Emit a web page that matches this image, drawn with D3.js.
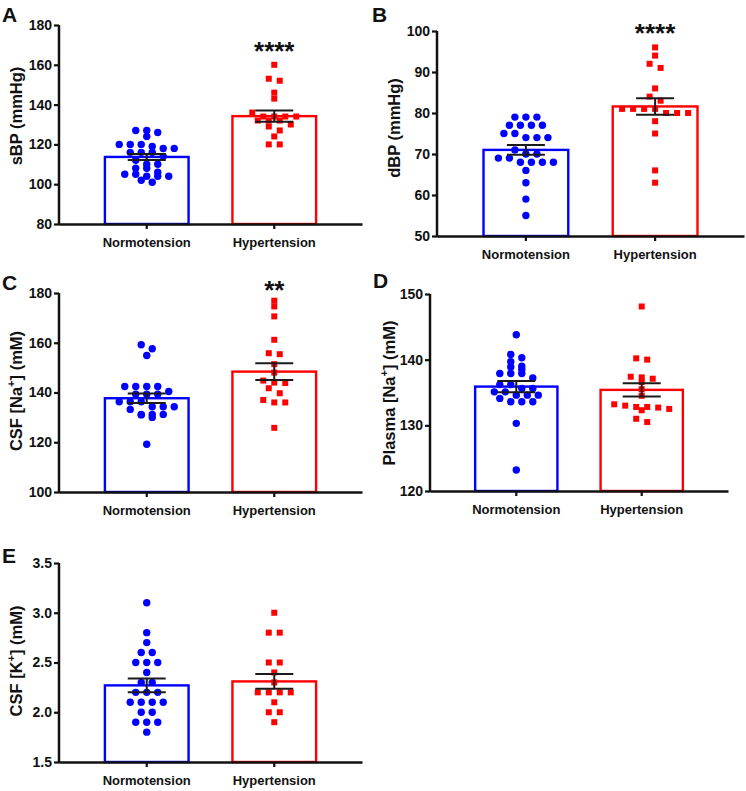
<!DOCTYPE html>
<html><head><meta charset="utf-8">
<script src="https://cdn.jsdelivr.net/npm/d3@7"></script>
<style>
body{margin:0;background:#fff}
svg{display:block}
text{font-family:"Liberation Sans",Arial,Helvetica,sans-serif;font-weight:bold;fill:#111}
</style>
</head><body>
<svg id="chart" width="746" height="791"></svg>
<script>
// ---------- DATA ----------
const categories = ["Normotension", "Hypertension"];

// A: sBP (mmHg)
const sbpNormo = [127,127,126,124,120,120,120,119,118,118,116,116,116,114,112,110,110,108,108,106,105,105,104,104,104,102,101];
const sbpHyper = [160,153,152,146,143,136,134,134,134,134,132,132,132,130,129,127,124,120,120];
const sbpMean = [113.7, 134.2];
const sbpSem = [1.5, 2.8];
const sbpTicks = [80,100,120,140,160,180];

// B: dBP (mmHg)
const dbpNormo = [79,79,79,77,77,77,77,75,75,74,74,74,71,70,70,69,69,68,68,68,68,66,63,59,55];
const dbpHyper = [96,94,92,91,86,84,83,81,81,81,81,80,80,80,78,75,66,63];
const dbpMean = [71.0, 81.6];
const dbpSem = [1.2, 2.0];
const dbpTicks = [50,60,70,80,90,100];

// C: CSF [Na+] (mM)
const csfNaNormo = [159.2,157.6,154.9,142.4,142.4,142.4,142.4,140.4,139.3,139.3,139.3,136.3,136.3,136.3,134.3,134.3,134.3,133.2,131.2,131.2,131.2,131.0,130.0,119.2];
const csfNaHyper = [176.9,174.6,170.6,161.2,155.8,155.4,151.4,148.0,144.8,144.0,143.8,141.7,139.7,137.0,136.0,136.0,125.8];
const csfNaMean = [137.7, 148.4];
const csfNaSem = [1.9, 3.4];
const csfNaTicks = [100,120,140,160,180];

// D: Plasma [Na+] (mM)
const plNaNormo = [143.8,140.8,140.3,139.7,139.0,138.9,138.5,137.9,137.9,137.9,137.2,136.2,136.2,135.6,135.6,135.1,135.1,134.6,134.6,134.6,134.1,133.6,133.6,133.6,130.3,123.2];
const plNaHyper = [148.1,140.2,140.0,137.4,137.3,137.1,136.6,135.5,134.5,133.2,133.0,132.8,132.8,132.7,132.5,132.3,131.0,130.5];
const plNaMean = [135.9, 135.4];
const plNaSem = [0.85, 1.0];
const plNaTicks = [120,130,140,150];

// E: CSF [K+] (mM)
const csfKNormo = [3.1,2.8,2.7,2.6,2.6,2.5,2.5,2.5,2.4,2.3,2.3,2.2,2.2,2.2,2.1,2.1,2.1,2.1,2.0,2.0,1.9,1.9,1.9,1.8];
const csfKHyper = [3.0,2.8,2.8,2.5,2.5,2.4,2.3,2.2,2.2,2.2,2.2,2.1,2.0,2.0,1.9];
const csfKMean = [2.27, 2.31];
const csfKSem = [0.07, 0.075];
const csfKTicks = [1.5,2.0,2.5,3.0,3.5];

// ---------- LAYOUT ----------
const colors = ["#0000ff", "#ff0000"];
const panels = [
  {letter:"A", lx:2, ly:22, label:["sBP (mmHg)"], labX:22, labY:116,
   groups:[sbpNormo, sbpHyper], mean:sbpMean, sem:sbpSem, ticks:sbpTicks, fmt:d3.format("d"),
   x0:59, x1:362, yTop:25, yBot:224, stars:"****", starsY:60},
  {letter:"B", lx:372, ly:22, label:["dBP (mmHg)"], labX:400, labY:128,
   groups:[dbpNormo, dbpHyper], mean:dbpMean, sem:dbpSem, ticks:dbpTicks, fmt:d3.format("d"),
   x0:437, x1:744, yTop:31, yBot:236, stars:"****", starsY:42},
  {letter:"C", lx:2, ly:290, label:["CSF [Na", "+", "] (mM)"], labX:22, labY:391,
   groups:[csfNaNormo, csfNaHyper], mean:csfNaMean, sem:csfNaSem, ticks:csfNaTicks, fmt:d3.format("d"),
   x0:59, x1:362, yTop:293, yBot:492, stars:"**", starsY:299},
  {letter:"D", lx:373, ly:288, label:["Plasma [Na", "+", "] (mM)"], labX:395, labY:393,
   groups:[plNaNormo, plNaHyper], mean:plNaMean, sem:plNaSem, ticks:plNaTicks, fmt:d3.format("d"),
   x0:430, x1:728, yTop:294, yBot:491, stars:null},
  {letter:"E", lx:2, ly:563, label:["CSF [K", "+", "] (mM)"], labX:22, labY:661,
   groups:[csfKNormo, csfKHyper], mean:csfKMean, sem:csfKSem, ticks:csfKTicks, fmt:d3.format(".1f"),
   x0:59, x1:362, yTop:563, yBot:762, stars:null}
];

const svg = d3.select("#chart");

// arrange points in centered rows (GraphPad-like scatter)
function swarm(values, y, cx, spacing, rowH) {
  const sorted = values.map(v => ({v, py: y(v)})).sort((a, b) => a.py - b.py);
  const rows = [];
  let cur = null;
  sorted.forEach(p => {
    if (!cur || p.py - cur[0].py >= rowH) { cur = [p]; rows.push(cur); }
    else cur.push(p);
  });
  const out = [];
  rows.forEach(r => {
    r.forEach((p, i) => out.push({v: p.v, px: cx + (i - (r.length - 1) / 2) * spacing, py: p.py}));
  });
  return out;
}

panels.forEach(P => {
  const g = svg.append("g");
  const y = d3.scaleLinear().domain([P.ticks[0], P.ticks[P.ticks.length - 1]]).range([P.yBot, P.yTop]);
  const x = d3.scaleBand().domain(categories).range([P.x0, P.x1]).paddingInner(0.344).paddingOuter(0.36);
  const bw = x.bandwidth();

  // bars
  g.selectAll("rect.bar").data(categories).join("rect")
    .attr("x", d => x(d)).attr("width", bw)
    .attr("y", (d, i) => y(P.mean[i])).attr("height", (d, i) => P.yBot - y(P.mean[i]))
    .attr("fill", "#fff").attr("stroke", (d, i) => colors[i]).attr("stroke-width", 2.4);

  // points
  P.groups.forEach((vals, i) => {
    const cx = x(categories[i]) + bw / 2;
    const pts = swarm(vals, y, cx, 11, 5);
    if (i === 0) {
      g.selectAll(null).data(pts).join("circle")
        .attr("cx", d => d.px).attr("cy", d => d.py).attr("r", 3.7).attr("fill", colors[0]);
    } else {
      g.selectAll(null).data(pts).join("rect")
        .attr("x", d => d.px - 3).attr("y", d => d.py - 3).attr("width", 6).attr("height", 6).attr("fill", colors[1]);
    }
  });

  // error bars
  categories.forEach((c, i) => {
    const cx = x(c) + bw / 2;
    const hi = y(P.mean[i] + P.sem[i]), lo = y(P.mean[i] - P.sem[i]);
    const eg = g.append("g").attr("stroke", "#1a1a1a").attr("stroke-width", 2);
    eg.append("line").attr("x1", cx).attr("x2", cx).attr("y1", hi).attr("y2", lo);
    eg.append("line").attr("x1", cx - 19).attr("x2", cx + 19).attr("y1", hi).attr("y2", hi);
    eg.append("line").attr("x1", cx - 19).attr("x2", cx + 19).attr("y1", lo).attr("y2", lo);
  });

  // axes
  const ya = g.append("g").attr("transform", `translate(${P.x0},0)`)
    .call(d3.axisLeft(y).tickValues(P.ticks).tickFormat(P.fmt).tickSize(5).tickSizeOuter(0).tickPadding(2));
  const xa = g.append("g").attr("transform", `translate(0,${P.yBot})`)
    .call(d3.axisBottom(x).tickSize(5).tickSizeOuter(0).tickPadding(9));
  [ya, xa].forEach(a => {
    a.select(".domain").attr("stroke", "#111").attr("stroke-width", 2.5);
    a.selectAll(".tick line").attr("stroke", "#111").attr("stroke-width", 2.2);
    a.selectAll("text").attr("fill", "#111").style("font-weight", "bold")
      .style("font-family", '"Liberation Sans",Arial,sans-serif');
  });
  ya.selectAll("text").style("font-size", "14px");
  xa.selectAll("text").style("font-size", "13px");
  ya.select(".domain").attr("d", `M0,${P.yBot + 1.2}V${P.yTop}`);

  // y label
  const lab = g.append("text").attr("transform", `translate(${P.labX},${P.labY}) rotate(-90)`)
    .attr("text-anchor", "middle").style("font-size", "16.5px");
  if (P.label.length === 1) {
    lab.text(P.label[0]);
  } else {
    lab.append("tspan").text(P.label[0]);
    lab.append("tspan").text(P.label[1]).style("font-size", "11px").attr("dy", -7);
    lab.append("tspan").text(P.label[2]).attr("dy", 7);
  }

  // panel letter
  g.append("text").attr("x", P.lx).attr("y", P.ly).style("font-size", "21px").text(P.letter);

  // significance stars
  if (P.stars) {
    g.append("text").attr("x", x(categories[1]) + bw / 2).attr("y", P.starsY)
      .attr("text-anchor", "middle").style("font-size", "26px").text(P.stars);
  }
});
</script>
</body></html>
